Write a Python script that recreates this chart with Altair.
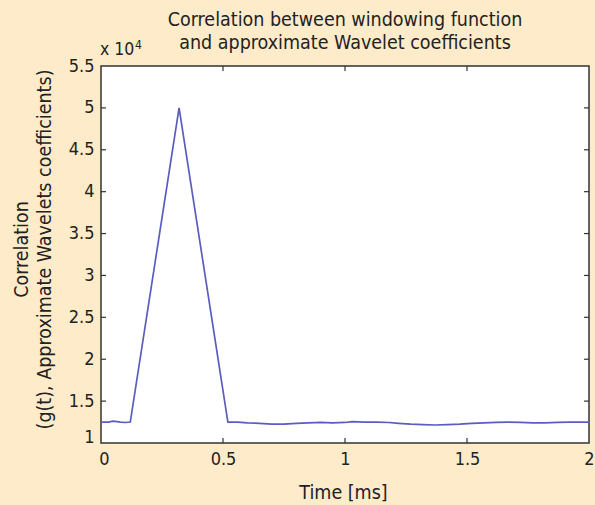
import altair as alt
import pandas as pd

# ---- data (correlation in raw units) ----
time_ms = [0.0, 0.03, 0.05, 0.08, 0.10, 0.12, 0.32, 0.52, 0.56, 0.60, 0.65, 0.70,
           0.75, 0.80, 0.85, 0.90, 0.95, 1.00, 1.03, 1.08, 1.13, 1.18, 1.22, 1.27,
           1.32, 1.37, 1.42, 1.47, 1.52, 1.57, 1.62, 1.67, 1.72, 1.77, 1.82, 1.87,
           1.92, 1.97, 2.00]
corr = [12500, 12500, 12600, 12500, 12450, 12500, 50000, 12500, 12500, 12400,
        12350, 12250, 12250, 12350, 12400, 12450, 12400, 12450, 12550, 12500,
        12500, 12450, 12350, 12250, 12200, 12150, 12200, 12250, 12350, 12400,
        12450, 12500, 12450, 12400, 12400, 12450, 12500, 12500, 12500]

x_ticks = [0, 0.5, 1, 1.5, 2]
y_ticks = [10000, 15000, 20000, 25000, 30000, 35000, 40000, 45000, 50000, 55000]
x_inner = [0.5, 1, 1.5]
y_inner = [15000, 20000, 25000, 30000, 35000, 40000, 45000, 50000]

title_lines = ["Correlation between windowing function",
               "and approximate Wavelet coefficients"]
y_title = ["Correlation", "(g(t), Approximate Wavelets coefficients)"]
x_title = "Time [ms]"

FONT = "Liberation Sans Narrow, DejaVu Sans Condensed, sans-serif"
TXT = "#222222"
BG = "#fdebc9"
W, H = 488, 377
TFS = 19.5

df = pd.DataFrame({"t": time_ms, "c": corr})
xs = alt.Scale(domain=[0, 2], nice=False, zero=False)
ys = alt.Scale(domain=[10000, 55000], nice=False, zero=False)

line = alt.Chart(df).mark_line(color="#5a5dbe", strokeWidth=1.7).encode(
    x=alt.X("t:Q", scale=xs,
            axis=alt.Axis(values=x_ticks, tickSize=0, domain=False, grid=False,
                          labelExpr="'' + datum.value",
                          labelOffset={"condition": {"test": "datum.value == 0", "value": 3},
                                       "value": 0},
                          labelFontSize=18, labelFont=FONT, labelColor=TXT,
                          labelPadding=7, labelFlush=False,
                          title=x_title, titleFont=FONT, titleFontSize=TFS,
                          titleFontWeight="normal", titleColor=TXT,
                          titleX=W / 2 - 2, titleY=55, titleAlign="center",
                          titleBaseline="alphabetic")),
    y=alt.Y("c:Q", scale=ys,
            axis=alt.Axis(values=y_ticks, tickSize=0, domain=False, grid=False,
                          labelExpr="'' + datum.value / 10000",
                          labelOffset={"condition": {"test": "datum.value == 10000", "value": -6},
                                       "value": 0},
                          labelFontSize=18, labelFont=FONT, labelColor=TXT,
                          labelPadding=7, labelFlush=False,
                          title=y_title, titleFont=FONT, titleFontSize=TFS,
                          titleFontWeight="normal", titleColor=TXT,
                          titleLineHeight=23, titleAngle=270,
                          titleX=-74, titleY=H / 2 - 5.5, titleAlign="center",
                          titleBaseline="alphabetic")),
)

tick_col = "#333333"
xt = pd.DataFrame({"v": x_inner})
yt = pd.DataFrame({"v": y_inner})
bottom_ticks = alt.Chart(xt).mark_rule(color=tick_col, strokeWidth=1.2).encode(
    x=alt.X("v:Q", scale=xs), y=alt.value(H), y2=alt.value(H - 5))
top_ticks = alt.Chart(xt).mark_rule(color=tick_col, strokeWidth=1.2).encode(
    x=alt.X("v:Q", scale=xs), y=alt.value(0), y2=alt.value(5))
left_ticks = alt.Chart(yt).mark_rule(color=tick_col, strokeWidth=1.2).encode(
    y=alt.Y("v:Q", scale=ys), x=alt.value(0), x2=alt.value(5))
right_ticks = alt.Chart(yt).mark_rule(color=tick_col, strokeWidth=1.2).encode(
    y=alt.Y("v:Q", scale=ys), x=alt.value(W), x2=alt.value(W - 5))

exp_base = alt.Chart(pd.DataFrame({"s": ["x 10"]})).mark_text(
    font=FONT, fontSize=17.5, color=TXT, align="left", baseline="alphabetic"
).encode(text="s:N", x=alt.value(-1), y=alt.value(-11))
exp_sup = alt.Chart(pd.DataFrame({"s": ["4"]})).mark_text(
    font=FONT, fontSize=12, color=TXT, align="left", baseline="alphabetic"
).encode(text="s:N", x=alt.value(34), y=alt.value(-17))

chart = alt.layer(line, bottom_ticks, top_ticks, left_ticks, right_ticks,
                  exp_base, exp_sup).properties(
    width=W, height=H,
    background=BG,
    padding={"left": 101, "top": 66, "right": 6, "bottom": 62},
    autosize=alt.AutoSizeParams(type="none"),
    title=alt.TitleParams(text=title_lines, font=FONT, fontSize=TFS,
                          fontWeight="normal", color=TXT, lineHeight=23,
                          anchor="middle", offset=-14),
).configure_view(stroke="#333333", strokeWidth=1.5, fill="white")

chart.save("out.html", embed_options={"renderer": "svg", "actions": False})
